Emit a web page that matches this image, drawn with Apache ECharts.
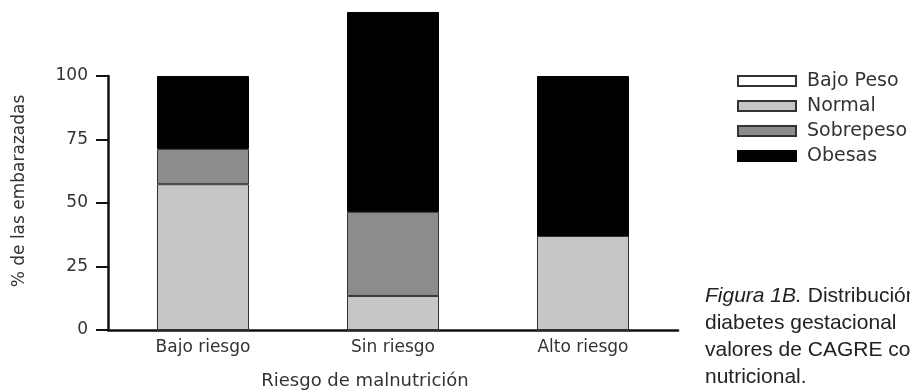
<!DOCTYPE html>
<html>
<head>
<meta charset="utf-8">
<script src="https://cdn.jsdelivr.net/npm/echarts@6/dist/echarts.min.js"></script>
<style>
  html, body { margin: 0; padding: 0; background: #fff; }
  #chart { width: 910px; height: 390px; }
</style>
</head>
<body>
<div id="chart"></div>
<script>
// Categories of malnutrition risk and the percentage of pregnant women per BMI group
const categories = ['Bajo riesgo', 'Sin riesgo', 'Alto riesgo'];
const bajoPeso  = [0, 0, 0];
const normal    = [57.4, 13.4, 37.0];
const sobrepeso = [13.9, 33.1, 0];
const obesas    = [28.7, 78.7, 63.0];
const yTicks = [0, 25, 50, 75, 100];

const seriesNames = ['Bajo Peso', 'Normal', 'Sobrepeso', 'Obesas'];
const seriesValues = [bajoPeso, normal, sobrepeso, obesas];
const fills = ['#ffffff', '#c6c6c6', '#8c8c8c', '#000000'];

const axisFont = 'DejaVu Sans';
const textColor = '#333333';
const captionFont = 'Liberation Sans';

const chart = echarts.init(document.getElementById('chart'));

chart.setOption({
  animation: false,
  backgroundColor: '#ffffff',
  grid: { left: 108, right: 232, top: 76, bottom: 60, containLabel: false },
  legend: {
    orient: 'vertical',
    left: 732,
    top: 66,
    icon: 'rect',
    itemWidth: 58,
    itemHeight: 10,
    itemGap: 5,
    data: seriesNames,
    textStyle: {
      fontFamily: axisFont,
      fontSize: 19,
      lineHeight: 20,
      color: textColor,
      padding: [0, 0, 0, 6]
    }
  },
  xAxis: {
    type: 'category',
    data: categories,
    axisLine: { lineStyle: { color: '#111', width: 2.5 } },
    axisTick: { alignWithLabel: true, length: 6, lineStyle: { color: '#111', width: 2 } },
    axisLabel: { margin: 9, fontFamily: axisFont, fontSize: 17, color: textColor }
  },
  yAxis: {
    type: 'value',
    min: yTicks[0],
    max: yTicks[yTicks.length - 1],
    interval: yTicks[1] - yTicks[0],
    splitLine: { show: false },
    axisLine: { show: true, lineStyle: { color: '#111', width: 2.5 } },
    axisTick: { show: true, length: 12, lineStyle: { color: '#111', width: 2 } },
    axisLabel: { margin: 20, fontFamily: axisFont, fontSize: 17, color: textColor }
  },
  series: seriesNames.map((name, i) => ({
    name: name,
    type: 'bar',
    stack: 'total',
    clip: false,
    barWidth: 92,
    data: seriesValues[i],
    itemStyle: {
      color: fills[i],
      borderColor: i === 3 ? '#000' : '#333',
      borderWidth: 1
    }
  })),
  graphic: [
    {
      type: 'text',
      x: 20, y: 191,
      rotation: Math.PI / 2,
      style: {
        text: '% de las embarazadas',
        fontFamily: axisFont, fontSize: 17, fill: textColor,
        align: 'center', verticalAlign: 'middle'
      }
    },
    {
      type: 'text',
      x: 365, y: 381,
      style: {
        text: 'Riesgo de malnutrición',
        fontFamily: axisFont, fontSize: 18, fill: textColor,
        align: 'center', verticalAlign: 'middle'
      }
    },
    {
      type: 'text',
      x: 705, y: 296,
      style: {
        text: '{i|Figura 1B.} Distribución',
        fontFamily: captionFont, fontSize: 21, fill: '#222',
        verticalAlign: 'middle',
        rich: { i: { fontStyle: 'italic', fontFamily: captionFont, fontSize: 21, fill: '#222' } }
      }
    },
    {
      type: 'text',
      x: 705, y: 323,
      style: { text: 'diabetes gestacional', fontFamily: captionFont, fontSize: 21, fill: '#222', verticalAlign: 'middle' }
    },
    {
      type: 'text',
      x: 705, y: 350,
      style: { text: 'valores de CAGRE con', fontFamily: captionFont, fontSize: 21, fill: '#222', verticalAlign: 'middle' }
    },
    {
      type: 'text',
      x: 705, y: 377,
      style: { text: 'nutricional.', fontFamily: captionFont, fontSize: 21, fill: '#222', verticalAlign: 'middle' }
    }
  ]
});
</script>
</body>
</html>
